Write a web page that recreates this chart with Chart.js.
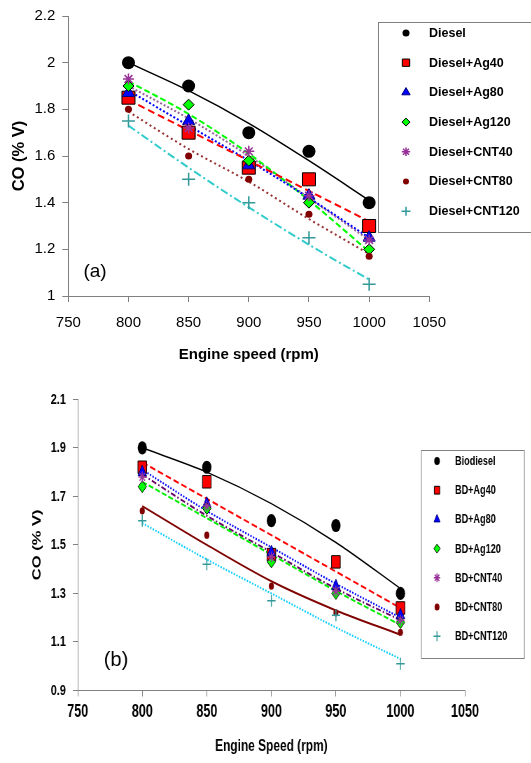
<!DOCTYPE html>
<html><head><meta charset="utf-8">
<script src="https://cdn.jsdelivr.net/npm/chart.js@4/dist/chart.umd.min.js"></script>
<style>
html,body{margin:0;padding:0;background:#fff;overflow:hidden;width:531px;height:763px}
#wa{position:absolute;left:0;top:0;width:531px;height:380px}
#wb{position:absolute;left:0;top:380px;width:759px;height:383px;transform:scaleX(0.7);transform-origin:0 0}
</style></head><body>
<div id="wa"><canvas id="ca"></canvas></div>
<div id="wb"><canvas id="cb"></canvas></div>
<script>
// ---------- data ----------
const rpm = [800, 850, 900, 950, 1000];
const xTicks = [750, 800, 850, 900, 950, 1000, 1050];
const yTicksA = [1, 1.2, 1.4, 1.6, 1.8, 2, 2.2];
const yTicksB = [0.9, 1.1, 1.3, 1.5, 1.7, 1.9, 2.1];

const labelsA = ['Diesel', 'Diesel+Ag40', 'Diesel+Ag80', 'Diesel+Ag120', 'Diesel+CNT40', 'Diesel+CNT80', 'Diesel+CNT120'];
const dieselA  = [2.00, 1.90, 1.70, 1.62, 1.40];
const ag40A    = [1.85, 1.70, 1.55, 1.50, 1.30];
const ag80A    = [1.87, 1.75, 1.56, 1.43, 1.25];
const ag120A   = [1.90, 1.82, 1.58, 1.40, 1.20];
const cnt40A   = [1.93, 1.72, 1.62, 1.43, 1.24];
const cnt80A   = [1.80, 1.60, 1.50, 1.35, 1.17];
const cnt120A  = [1.75, 1.50, 1.40, 1.25, 1.05];
// trend lines
const dieselTrendA = [2.00, 1.88, 1.74, 1.58, 1.41];
const ag40TrendA   = [1.84, 1.71, 1.58, 1.45, 1.32];
const ag80TrendA   = [1.88, 1.73, 1.58, 1.42, 1.25];
const ag120TrendA  = [1.92, 1.78, 1.61, 1.41, 1.19];
const cnt40TrendA  = [1.90, 1.76, 1.60, 1.42, 1.24];
const cnt80TrendA  = [1.79, 1.63, 1.49, 1.33, 1.18];
const cnt120TrendA = [1.73, 1.55, 1.38, 1.22, 1.07];

const labelsB = ['Biodiesel', 'BD+Ag40', 'BD+Ag80', 'BD+Ag120', 'BD+CNT40', 'BD+CNT80', 'BD+CNT120'];
const bioB     = [1.90, 1.82, 1.60, 1.58, 1.30];
const ag40B    = [1.82, 1.76, 1.46, 1.43, 1.24];
const ag80B    = [1.80, 1.67, 1.47, 1.33, 1.21];
const ag120B   = [1.74, 1.65, 1.43, 1.30, 1.18];
const cnt40B   = [1.78, 1.66, 1.45, 1.31, 1.19];
const cnt80B   = [1.64, 1.54, 1.33, 1.22, 1.14];
const cnt120B  = [1.60, 1.42, 1.27, 1.21, 1.01];
// trend lines
const bioTrendB    = [1.90, 1.80, 1.67, 1.51, 1.32];
const ag40TrendB   = [1.84, 1.69, 1.54, 1.39, 1.24];
const ag80TrendB   = [1.81, 1.64, 1.49, 1.34, 1.20];
const ag120TrendB  = [1.76, 1.61, 1.46, 1.31, 1.17];
const cnt40TrendB  = [1.79, 1.62, 1.47, 1.32, 1.19];
const cnt80TrendB  = [1.66, 1.50, 1.35, 1.23, 1.13];
const cnt120TrendB = [1.59, 1.44, 1.30, 1.16, 1.03];

// ---------- styles ----------
const FONT = "'Liberation Sans', Arial, sans-serif";
Chart.defaults.font.family = FONT;
Chart.defaults.color = '#000';

const marksA = [
  {style:'circle',   r:6.5, lr:3.5, fill:'#000000', stroke:'#000000', bw:0},
  {style:'rect',     r:9.2, lr:5.2, fill:'#ff0000', stroke:'#000000', bw:1},
  {style:'triangle', r:7,   lr:4.8, fill:'#0000ff', stroke:'#000080', bw:1},
  {style:'rectRot',  r:5.5, lr:4,   fill:'#00ff00', stroke:'#000000', bw:1},
  {style:'star',     r:5.5, lr:4.2, fill:'#993399', stroke:'#993399', bw:1.5},
  {style:'circle',   r:3.5, lr:3,   fill:'#800000', stroke:'#800000', bw:0},
  {style:'cross',    r:6.5, lr:4.5, fill:'#339999', stroke:'#339999', bw:1.5}
];
const linesA = [
  {color:'#000000', w:1.5, dash:[]},
  {color:'#ff0000', w:2, dash:[7,4]},
  {color:'#0000ff', w:2, dash:[2,2]},
  {color:'#00ff00', w:2, dash:[6,3]},
  {color:'#996699', w:2, dash:[2,2]},
  {color:'#993333', w:2, dash:[2,3]},
  {color:'#33cccc', w:2, dash:[8,3,2,3]}
];
const marksB = [
  {style:'circle',   r:6.6, lr:4,   fill:'#000000', stroke:'#000000', bw:0},
  {style:'rect',     r:8.8, lr:5.5, fill:'#ff0000', stroke:'#000000', bw:1},
  {style:'triangle', r:7,   lr:5,   fill:'#0000ff', stroke:'#000080', bw:1},
  {style:'rectRot',  r:6,   lr:4.5, fill:'#00ff00', stroke:'#000000', bw:1},
  {style:'star',     r:5.5, lr:4.5, fill:'#993399', stroke:'#993399', bw:1.5},
  {style:'circle',   r:3.6, lr:3.5, fill:'#800000', stroke:'#800000', bw:0},
  {style:'cross',    r:6,   lr:5,   fill:'#339999', stroke:'#339999', bw:1.5}
];
const linesB = [
  {color:'#000000', w:1.5, dash:[]},
  {color:'#ff0000', w:2, dash:[8,4]},
  {color:'#0000ff', w:2, dash:[2,2]},
  {color:'#00ee00', w:2, dash:[7,3]},
  {color:'#660066', w:2, dash:[7,3,2,3]},
  {color:'#800000', w:2, dash:[]},
  {color:'#00ccff', w:2, dash:[2,2]}
];

function buildDatasets(labels, values, trends, marks, lines) {
  const ds = [];
  labels.forEach((lab, i) => {
    ds.push({
      label: lab, isTrend: false, legendR: marks[i].lr,
      data: rpm.map((x, j) => ({x: x, y: values[i][j]})),
      pointStyle: marks[i].style, pointRadius: marks[i].r, pointHoverRadius: marks[i].r,
      backgroundColor: marks[i].fill, borderColor: marks[i].stroke, borderWidth: marks[i].bw,
      showLine: false, order: labels.length - i
    });
    ds.push({
      label: lab + ' trend', isTrend: true,
      data: rpm.map((x, j) => ({x: x, y: trends[i][j]})),
      showLine: true, borderColor: lines[i].color, borderWidth: lines[i].w, borderDash: lines[i].dash,
      pointRadius: 0, pointHoverRadius: 0, fill: false, cubicInterpolationMode: 'monotone',
      order: 20 + i
    });
  });
  return ds;
}

function overlayPlugin(cfg) {
  return {
    id: 'overlay',
    afterDraw(chart) {
      const ctx = chart.ctx;
      ctx.save();
      ctx.fillStyle = '#ffffff';
      ctx.strokeStyle = '#808080';
      ctx.lineWidth = 1;
      ctx.fillRect(cfg.box[0], cfg.box[1], cfg.box[2], cfg.box[3]);
      ctx.strokeRect(cfg.box[0] + 0.5, cfg.box[1] + 0.5, cfg.box[2], cfg.box[3]);
      const pts = chart.data.datasets.filter(d => !d.isTrend);
      pts.forEach((d, i) => {
        const y = cfg.y0 + i * cfg.dy;
        ctx.fillStyle = d.backgroundColor;
        ctx.strokeStyle = d.borderColor;
        ctx.lineWidth = d.borderWidth;
        ctx.setLineDash([]);
        Chart.helpers.drawPoint(ctx, {pointStyle: d.pointStyle, radius: d.legendR, rotation: 0, borderWidth: d.borderWidth}, cfg.mx, y);
        ctx.fillStyle = '#000';
        ctx.font = cfg.font;
        ctx.textAlign = 'left';
        ctx.textBaseline = 'middle';
        ctx.fillText(d.label, cfg.tx, y + 0.5);
      });
      // panel label
      ctx.translate(cfg.tag.x, cfg.tag.y);
      ctx.scale(cfg.tag.sx, 1);
      ctx.fillStyle = '#000';
      ctx.font = cfg.tag.font;
      ctx.textAlign = 'center';
      ctx.textBaseline = 'middle';
      ctx.fillText(cfg.tag.text, 0, 0);
      ctx.restore();
    }
  };
}

function axisOpts(o) {
  return {
    type: 'linear', min: o.min, max: o.max,
    afterBuildTicks: s => { s.ticks = o.ticks.map(v => ({value: v})); },
    afterFit: s => { if (o.width) s.width = o.width; if (o.height) s.height = o.height; },
    border: {display: true, color: '#808080', width: 1},
    grid: {display: true, drawOnChartArea: false, drawTicks: true, tickLength: o.tickLen, color: '#808080', lineWidth: 1},
    ticks: {font: o.tickFont, color: '#000', padding: o.pad, maxRotation: 0, autoSkip: false,
            callback: v => String(Math.round(v * 10) / 10)},
    title: {display: true, text: o.title, font: o.titleFont, color: '#000', padding: o.titlePad}
  };
}

// ---------- panel (a) ----------
new Chart(document.getElementById('ca'), {
  type: 'scatter',
  data: {datasets: buildDatasets(labelsA,
    [dieselA, ag40A, ag80A, ag120A, cnt40A, cnt80A, cnt120A],
    [dieselTrendA, ag40TrendA, ag80TrendA, ag120TrendA, cnt40TrendA, cnt80TrendA, cnt120TrendA],
    marksA, linesA)},
  options: {
    responsive: true, maintainAspectRatio: false, animation: false, events: [],
    layout: {padding: {left: 0, right: 101.7, top: 13.3, bottom: 0}},
    plugins: {legend: {display: false}, tooltip: {enabled: false}},
    scales: {
      x: axisOpts({min: 750, max: 1050, ticks: xTicks, height: 84, tickLen: 6, pad: 12,
        tickFont: {size: 15}, title: 'Engine speed (rpm)', titleFont: {size: 15, weight: 'bold'},
        titlePad: {top: 0, bottom: 16}}),
      y: axisOpts({min: 1, max: 2.2, ticks: yTicksA, width: 68.3, tickLen: 6, pad: 7,
        tickFont: {size: 15}, title: 'CO (% V)', titleFont: {size: 16.5, weight: 'bold'},
        titlePad: {top: 10, bottom: 0}})
    }
  },
  plugins: [overlayPlugin({box: [378, 22, 170, 210], mx: 406, tx: 429, y0: 33, dy: 29.7,
    font: 'bold 12.5px ' + FONT,
    tag: {text: '(a)', x: 95, y: 272, sx: 1, font: '19px ' + FONT}})]
});

// ---------- panel (b) (drawn 0.7x horizontally, like the reference) ----------
new Chart(document.getElementById('cb'), {
  type: 'scatter',
  data: {datasets: buildDatasets(labelsB,
    [bioB, ag40B, ag80B, ag120B, cnt40B, cnt80B, cnt120B],
    [bioTrendB, ag40TrendB, ag80TrendB, ag120TrendB, cnt40TrendB, cnt80TrendB, cnt120TrendB],
    marksB, linesB)},
  options: {
    responsive: true, maintainAspectRatio: false, animation: false, events: [],
    layout: {padding: {left: 0, right: 94.7, top: 13.3, bottom: 0}},
    plugins: {legend: {display: false}, tooltip: {enabled: false}},
    scales: {
      x: axisOpts({min: 750, max: 1050, ticks: xTicks, height: 72.5, tickLen: 6, pad: 5,
        tickFont: {size: 18, weight: 'bold'}, title: 'Engine Speed (rpm)', titleFont: {size: 17, weight: 'bold'},
        titlePad: {top: 0, bottom: 6}}),
      y: axisOpts({min: 0.9, max: 2.1, ticks: yTicksB, width: 111, tickLen: 7, pad: 10,
        tickFont: {size: 15.5, weight: 'bold'}, title: 'CO (% V)', titleFont: {size: 16.5, weight: 'bold'},
        titlePad: {top: 44, bottom: 0}})
    }
  },
  plugins: [overlayPlugin({box: [601.4, 70, 147.2, 208], mx: 624.3, tx: 650, y0: 81, dy: 29.2,
    font: 'bold 13px ' + FONT,
    tag: {text: '(b)', x: 165.7, y: 280, sx: 1 / 0.7, font: '20px ' + FONT}})]
});
</script>
</body></html>
